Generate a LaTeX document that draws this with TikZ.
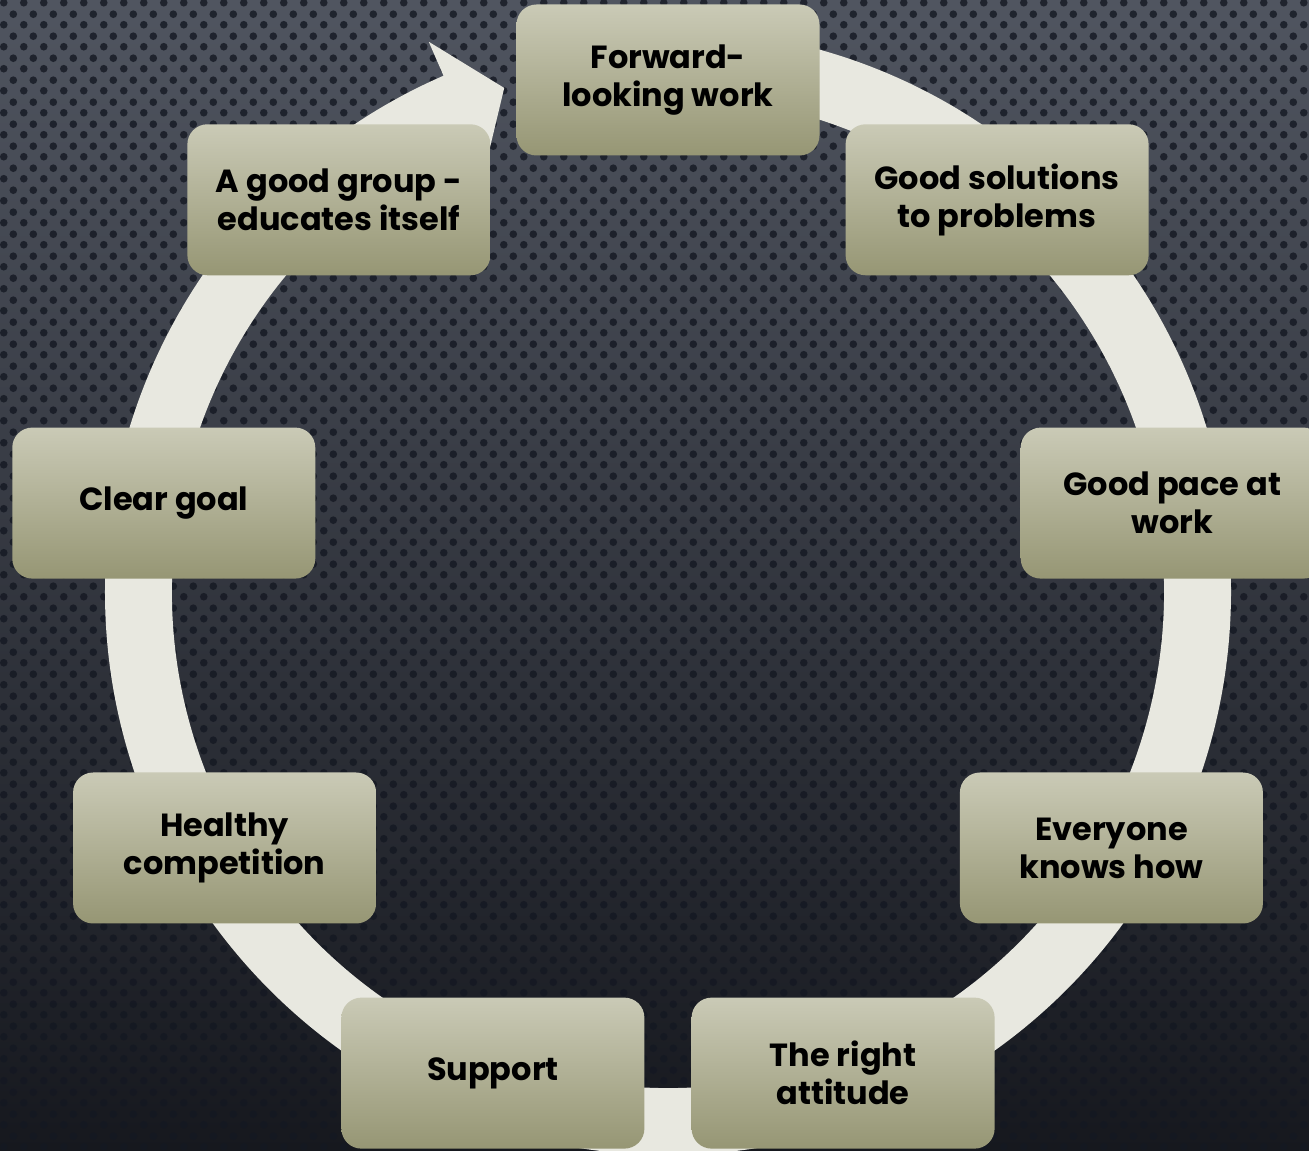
\documentclass[tikz,border=0pt]{standalone}
\usepackage{fontspec}
\setmainfont{Poppins}
\usetikzlibrary{patterns.meta}
\definecolor{ringcol}{RGB}{232,232,224}
\definecolor{boxtop}{RGB}{202,202,182}
\definecolor{boxbot}{RGB}{150,150,116}
\definecolor{bgtop}{RGB}{80,85,96}
\definecolor{bgmid}{RGB}{50,54,62}
\definecolor{bgbot}{RGB}{22,24,30}
\definecolor{dotcol}{RGB}{20,24,34}
\tikzdeclarepattern{
  name=bgdots,
  type=uncolored,
  bounding box={(0pt,0pt) and (20pt,22pt)},
  tile size={(20pt,22pt)},
  code={
    \fill (5pt,5.5pt) circle (4pt);
    \fill (15pt,16.5pt) circle (4pt);
  }
}
\begin{document}
\begin{tikzpicture}[x=1pt, y=1pt,
   stepbox/.style={rounded corners=20pt, top color=boxtop, bottom color=boxbot,
      minimum width=303pt, minimum height=151pt, align=center, inner sep=0pt,
      font=\fontsize{32}{38}\selectfont\bfseries, text=black}]

\useasboundingbox (0,0) rectangle (1309,1151);
\shade[top color=bgtop, middle color=bgmid, bottom color=bgbot] (0,0) rectangle (1309,1151);
\fill[pattern=bgdots, pattern color=dotcol, fill opacity=0.8] (0,0) rectangle (1309,1151);

\begin{scope}[shift={(668,559)}]
\fill[ringcol] (88:563) arc[start angle=88, end angle=-246.5, radius=563]
    -- (113.5:600) -- (108:530) -- (113.5:460) -- (113.5:496)
    arc[start angle=113.5, end angle=448, radius=496] -- cycle;

\node[stepbox] (fwd) at (90:512) {Forward-\\looking work};
\node[stepbox] (sol) at (50:512) {Good solutions\\to problems};
\node[stepbox] (pace) at (10:512) {Good pace at\\work};
\node[stepbox] (know) at (-30:512) {Everyone\\knows how};
\node[stepbox] (att) at (-70:512) {The right\\attitude};
\node[stepbox] (sup) at (-110:512) {Support};
\node[stepbox] (comp) at (-150:512) {Healthy\\competition};
\node[stepbox] (goal) at (170:512) {Clear goal};
\node[stepbox] (edu) at (130:512) {A good group -\\educates itself};
\end{scope}

\end{tikzpicture}
\end{document}
